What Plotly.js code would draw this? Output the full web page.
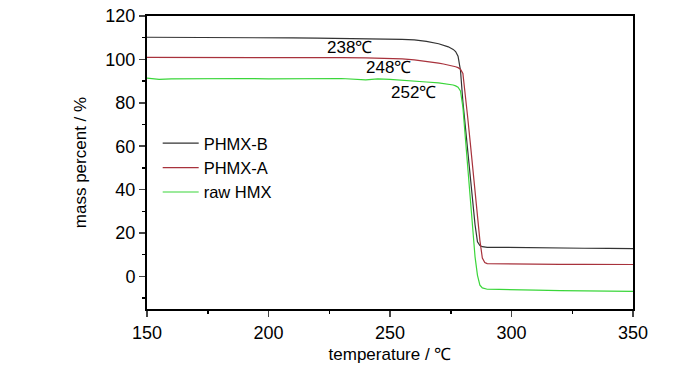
<!DOCTYPE html>
<html>
<head>
<meta charset="utf-8">
<script src="https://cdn.plot.ly/plotly-3.0.1.min.js"></script>
<style>html,body{margin:0;padding:0;background:#fff;}#chart{width:700px;height:373px;}</style>
</head>
<body>
<div id="chart"></div>
<script>
const temperature = [150,155,160,170,180,190,200,210,220,230,240,245,250,255,260,265,270,272,274,276,277,278,279,280,281,282,283,284,285,286,287,288,289,290,295,300,310,320,330,340,350];
const phmxB = [110.2,110.2,110.2,110.1,110.1,110.0,110.0,109.9,109.8,109.7,109.6,109.5,109.4,109.2,109.0,108.3,107.2,106.6,105.8,104.6,103.6,101.5,95.0,80.5,69.0,57.7,46.4,35.1,23.8,16.0,14.2,13.7,13.5,13.4,13.4,13.3,13.2,13.1,13.0,12.9,12.8];
const phmxA = [100.9,100.9,101.0,101.0,101.1,101.0,101.0,100.9,100.9,100.8,100.7,100.6,100.5,100.2,99.8,99.2,98.3,97.9,97.5,96.9,96.6,96.2,95.5,93.5,84.0,73.0,62.0,50.5,39.0,28.0,16.5,8.5,6.4,5.9,5.8,5.7,5.7,5.6,5.6,5.5,5.5];
const rawHMX = [91.4,90.8,91.0,91.1,91.0,91.2,91.0,91.1,90.9,91.2,90.6,91.0,90.8,90.5,90.2,89.6,89.2,88.9,88.6,88.2,87.8,87.2,85.5,78.0,64.0,50.0,36.0,22.0,9.0,0.5,-4.0,-5.3,-5.7,-5.9,-6.0,-6.2,-6.3,-6.5,-6.6,-6.8,-6.9];
const seriesNames = ["PHMX-B","PHMX-A","raw HMX"];
const labelText = ["238℃","248℃","252℃"];
const labelX = [233.5,249.5,259.5];
const labelY = [105.3,96.1,84.6];

const colors = ["#333333","#a8323c","#3ad63a"];
const fontFam = "'Liberation Sans', Arial, sans-serif";

const traces = [phmxB, phmxA, rawHMX].map((ys, i) => ({
  x: temperature, y: ys, type: "scatter", mode: "lines",
  name: seriesNames[i], line: {color: colors[i], width: 1.2}
}));

const annotations = labelText.map((t, i) => ({
  x: labelX[i], y: labelY[i], xref: "x", yref: "y", text: t, showarrow: false,
  font: {family: fontFam, size: 17, color: "#000"}
}));

const layout = {
  width: 700, height: 373,
  margin: {l: 147, r: 67, t: 16, b: 64},
  paper_bgcolor: "#fff", plot_bgcolor: "#fff",
  showlegend: true,
  legend: {x: 0.022, y: 0.625, xanchor: "left", yanchor: "top", bgcolor: "rgba(0,0,0,0)",
    font: {family: fontFam, size: 16.5, color: "#000"}, tracegroupgap: 0, itemwidth: 36},
  xaxis: {
    range: [150, 350], dtick: 50, tick0: 150, ticks: "outside", ticklen: 6, tickwidth: 1.5,
    showline: true, linewidth: 2, linecolor: "#000", mirror: true, showgrid: false, zeroline: false,
    tickfont: {family: fontFam, size: 18, color: "#000"},
    minor: {dtick: 25, tick0: 150, ticks: "outside", ticklen: 3, tickwidth: 1.5, tickcolor: "#000", showgrid: false},
    title: {text: "temperature / ℃", font: {family: fontFam, size: 17, color: "#000"}, standoff: 7}
  },
  yaxis: {
    range: [-15, 120], dtick: 20, tick0: 0, ticks: "outside", ticklen: 6, tickwidth: 1.5,
    showline: true, linewidth: 2, linecolor: "#000", mirror: true, showgrid: false, zeroline: false,
    tickfont: {family: fontFam, size: 18, color: "#000"},
    minor: {dtick: 10, tick0: 0, ticks: "outside", ticklen: 3, tickwidth: 1.5, tickcolor: "#000", showgrid: false},
    title: {text: "mass percent / %", font: {family: fontFam, size: 17, color: "#000"}, standoff: 14}
  },
  annotations: annotations
};

Plotly.newPlot("chart", traces, layout, {displayModeBar: false, staticPlot: true});
</script>
</body>
</html>
